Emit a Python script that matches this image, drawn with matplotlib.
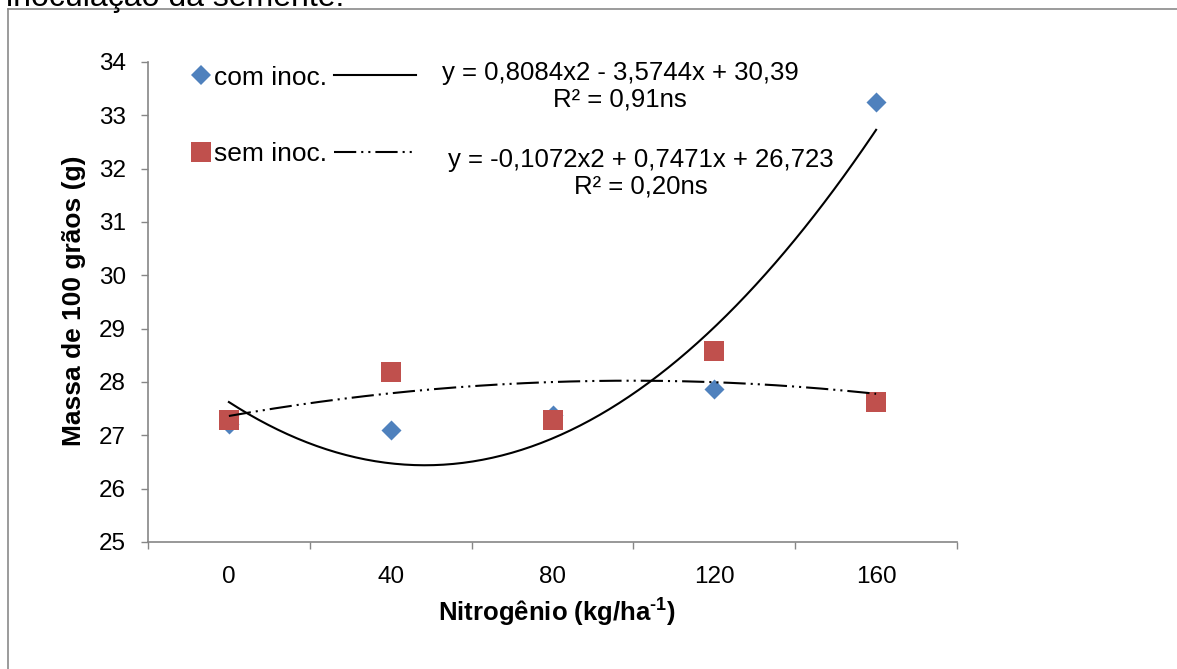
import numpy as np
import matplotlib
matplotlib.use("Agg")
import matplotlib.pyplot as plt
from matplotlib.lines import Line2D

plt.rcParams['font.family'] = ['Liberation Sans', 'DejaVu Sans']
plt.rcParams['mathtext.fontset'] = 'custom'
plt.rcParams['mathtext.rm'] = 'Liberation Sans:bold'
plt.rcParams['mathtext.bf'] = 'Liberation Sans:bold'
plt.rcParams['lines.scale_dashes'] = False

# data
nitrogen = ['0', '40', '80', '120', '160']
com_inoc = [27.22, 27.10, 27.38, 27.86, 33.25]
sem_inoc = [27.28, 28.19, 27.28, 28.58, 27.62]
# trendline coefficients (Excel, x = category index 1..5)
com_coef = [0.8084, -3.5744, 30.39]
sem_coef = [-0.1072, 0.7471, 26.723]
com_eq = "y = 0,8084x2 - 3,5744x + 30,39\nR² = 0,91ns"
sem_eq = "y = -0,1072x2 + 0,7471x + 26,723\nR² = 0,20ns"

W, H = 1177, 669
blue = '#4F81BD'
red = '#C0504D'
grey = '#868686'
dashdotdot = (0, (16, 3.6, 1.5, 3.6, 1.5, 3.6))


def fpos(x, y):
    return x / W, 1 - y / H


fig = plt.figure(figsize=(W / 100, H / 100), dpi=100)
ax = fig.add_axes([148 / W, 1 - 542 / H, (957 - 148) / W, (542 - 62) / H])

pos = np.arange(1, len(nitrogen) + 1)
ax.scatter(pos, com_inoc, marker='D', s=10.2 ** 2, color=blue, linewidths=0, zorder=3)
ax.scatter(pos, sem_inoc, marker='s', s=14.4 ** 2, color=red, linewidths=0, zorder=4)

xf = np.linspace(1, 5, 200)
ax.plot(xf, np.polyval(com_coef, xf), color='black', lw=1.5, zorder=5)
ax.plot(xf, np.polyval(sem_coef, xf), color='black', lw=1.5, ls=dashdotdot, zorder=5)

ax.set_xlim(0.5, len(nitrogen) + 0.5)
ax.set_ylim(25, 34)
ax.set_yticks(range(25, 35))
ax.set_xticks(np.arange(0.5, len(nitrogen) + 1))
ax.set_xticklabels([])
ax.set_xticks(pos, minor=True)
ax.set_xticklabels(nitrogen, minor=True)
ax.tick_params(axis='x', which='major', length=5, width=1, color=grey, direction='out')
ax.tick_params(axis='x', which='minor', length=0, labelsize=17.5, pad=17)
ax.tick_params(axis='y', length=5, width=1, color=grey, labelsize=17.5, pad=11)
for s in ['top', 'right']:
    ax.spines[s].set_visible(False)
for s in ['left', 'bottom']:
    ax.spines[s].set_color(grey)
    ax.spines[s].set_linewidth(1.2)

fig.text(*fpos(557, 612), r'Nitrogênio (kg/ha$^{\text{-1}}$)', fontsize=18.5,
         fontweight='bold', ha='center', va='center')
fig.text(*fpos(74, 301), 'Massa de 100 grãos (g)', fontsize=19, fontweight='bold',
         rotation=90, ha='center', va='center')

# legend: series markers, then trendline samples
h_com = Line2D([], [], marker='D', ls='none', color=blue, ms=10.2, mew=0)
h_sem = Line2D([], [], marker='s', ls='none', color=red, ms=14.4, mew=0)
leg1 = ax.legend([h_com, h_sem], ['com inoc.', 'sem inoc.'], loc='center left',
                 bbox_to_anchor=fpos(190, 116), bbox_transform=fig.transFigure,
                 frameon=False, fontsize=19, handlelength=0.8, handletextpad=0.12,
                 labelspacing=2.0, borderpad=0, borderaxespad=0)
ax.add_artist(leg1)
t_com = Line2D([], [], color='black', lw=1.5)
t_sem = Line2D([], [], color='black', lw=1.5, ls=dashdotdot)
ax.legend([t_com, t_sem], ['', ''], loc='center left',
          bbox_to_anchor=fpos(334, 116), bbox_transform=fig.transFigure,
          frameon=False, fontsize=19, handlelength=3.1, handletextpad=0,
          labelspacing=2.0, borderpad=0, borderaxespad=0)

fig.text(*fpos(620, 86), com_eq, fontsize=18.5, ha='center', va='center',
         multialignment='center', linespacing=1.15)
fig.text(*fpos(641, 173), sem_eq, fontsize=18.5, ha='center', va='center',
         multialignment='center', linespacing=1.15)

# chart frame and the cut-off text line above it
fig.add_artist(Line2D([8 / W, 8 / W], [0, 1 - 9 / H], color='#8a8a8a', lw=1.2))
fig.add_artist(Line2D([8 / W, 1], [1 - 9 / H, 1 - 9 / H], color='#8a8a8a', lw=1.2))
fig.text(*fpos(6, 6), 'inoculação da semente.', fontsize=23, va='baseline')

fig.savefig('out.png', dpi=100)
